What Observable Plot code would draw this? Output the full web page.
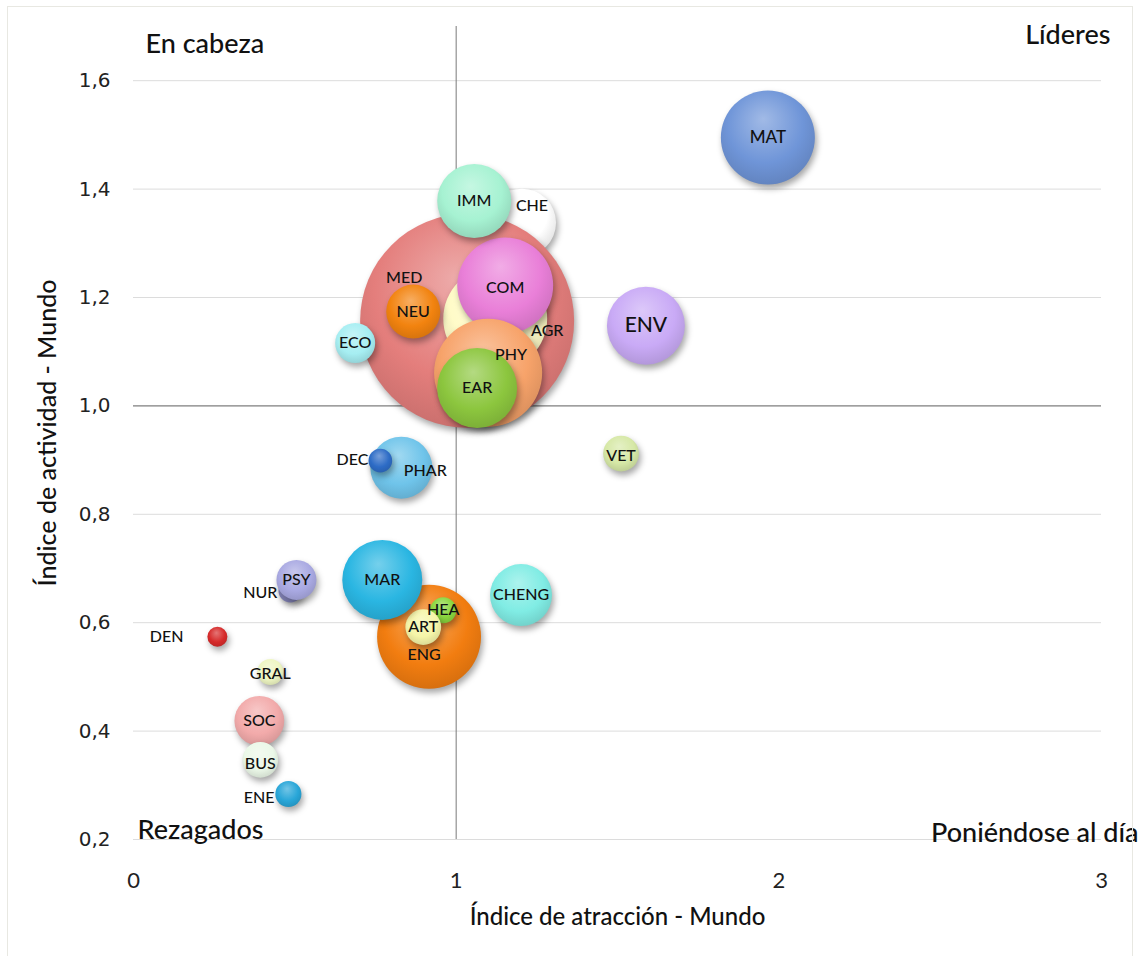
<!DOCTYPE html>
<html>
<head>
<meta charset="utf-8">
<script src="https://cdn.jsdelivr.net/npm/d3@7"></script>
<script src="https://cdn.jsdelivr.net/npm/@observablehq/plot@0.6"></script>
<style>
  body { margin: 0; background: #fff; }
  #chart { position: relative; width: 1140px; height: 956px; overflow: hidden; }
  #border { position: absolute; left: 7px; top: 6px; width: 1124px; height: 980px; border: 1px solid #e8e8e2; pointer-events: none; }
  #defs { position: absolute; width: 0; height: 0; }
  g[aria-label^="y-axis"] text { font-family: "DejaVu Sans"; font-size: 20px; fill: #222; }
  g[aria-label^="x-axis"] text { font-family: Lato; font-size: 22px; fill: #222; }
  g[aria-label="dot"] circle { filter: drop-shadow(2px 4px 3px rgba(0,0,0,0.35)); }
</style>
</head>
<body>
<svg id="defs"></svg>
<div id="chart"><div id="border"></div></div>
<script>
// ---- data (draw order) ----
const codes      = ["CHE","MED","AGR","COM","PHY","EAR","IMM","NEU","ECO","MAT","ENV","VET","PHAR","DEC","ENG","HEA","ART","MAR","CHENG","NUR","PSY","DEN","GRAL","SOC","BUS","ENE"];
const attraction = [1.204,1.034,1.121,1.152,1.099,1.065,1.056,0.867,0.687,1.966,1.588,1.511,0.830,0.765,0.916,0.960,0.898,0.771,1.201,0.486,0.505,0.260,0.424,0.390,0.393,0.480];
const activity   = [1.338,1.157,1.161,1.222,1.061,1.033,1.378,1.174,1.116,1.495,1.148,0.912,0.886,0.899,0.574,0.623,0.592,0.679,0.651,0.659,0.679,0.574,0.509,0.419,0.347,0.284];
const volume     = [116,1145,270,230,292,160,137,73,40,221,152,32,96,14,270,17,32,160,96,14,40,10,17,62,32,17];
const xTicks = [0, 1, 2, 3];
const yTicks = [0.2, 0.4, 0.6, 0.8, 1.0, 1.2, 1.4, 1.6];
const quadrantLabels = ["En cabeza", "Líderes", "Rezagados", "Poniéndose al día"];
const xTitle = "Índice de atracción - Mundo";
const yTitle = "Índice de actividad - Mundo";

// ---- styles ----
const palette = {
  MED:"#e47e7c", AGR:"#fffbc8", COM:"#e97fd8", PHY:"#f7a36a", EAR:"#8cc63e", CHE:"#ffffff", IMM:"#a6f2d2",
  NEU:"#f2830f", ECO:"#a6eef2", MAT:"#6f95d8", ENV:"#c9aaf6", VET:"#d6e8a6", PHAR:"#6fc4ea", DEC:"#2d6cc6",
  ENG:"#f27d10", HEA:"#8ad63e", ART:"#f5f5a8", MAR:"#2ab6e2", CHENG:"#80ece4", NUR:"#8f8fc8", PSY:"#a9a9e2",
  DEN:"#d62a2a", GRAL:"#eef6c2", SOC:"#f2aaaa", BUS:"#ebf8e8", ENE:"#28a6d8"
};
const labelOffset = {
  MED:[-63,-43], CHE:[10,-17], AGR:[52,12], PHY:[23,-18], PHAR:[24,3], ENG:[-5,18],
  COM:[0,2], VET:[0,2], GRAL:[0,2], BUS:[0,4],
  DEC:[-12,-1,"end"], NUR:[-13,2,"end"], DEN:[-34,0,"end"], ENE:[-14,4,"end"]
};
const labelSize = { ENV: 21, MAT: 17 };

// gradients
const defs = d3.select("#defs").append("defs");
codes.forEach(c => {
  const base = palette[c];
  const g = defs.append("radialGradient").attr("id", "g-" + c)
    .attr("cx", "48%").attr("cy", "40%").attr("r", "62%").attr("fx", "45%").attr("fy", "30%");
  g.append("stop").attr("offset", "0%").attr("stop-color", d3.interpolateRgb(base, "#fff")(0.35));
  g.append("stop").attr("offset", "65%").attr("stop-color", base);
  g.append("stop").attr("offset", "100%").attr("stop-color", d3.interpolateRgb(base, "#000")(0.12));
});

const idx = d3.range(codes.length);

const bubbles = idx.map(i => Plot.dot([i], {
  x: j => attraction[j], y: j => activity[j], r: j => volume[j],
  fill: `url(#g-${codes[i]})`, stroke: "none"
}));

const labels = idx.map(i => {
  const c = codes[i];
  const o = labelOffset[c] || [0, 0];
  return Plot.text([i], {
    x: j => attraction[j], y: j => activity[j], text: j => codes[j],
    dx: o[0], dy: o[1], textAnchor: o[2] || "middle",
    fontFamily: "Lato", fontWeight: 500, fontSize: labelSize[c] || 16, fill: "#111"
  });
});

const cornerStyle = { fontFamily: "Lato", fontWeight: 500, fontSize: 27, fill: "#111", lineAnchor: "middle" };

const plot = Plot.plot({
  width: 1140, height: 956,
  marginTop: 26, marginBottom: 117, marginLeft: 133, marginRight: 39,
  style: { background: "transparent", fontFamily: "Lato", overflow: "visible" },
  x: { domain: [0, 3], ticks: xTicks, tickFormat: d => String(d), tickSize: 0, tickPadding: 33, label: null },
  y: { domain: [0.2, 1.7], ticks: yTicks, tickFormat: d => d.toFixed(1).replace(".", ","), tickSize: 0, tickPadding: 23, label: null },
  r: { type: "sqrt", domain: [0, 1000], range: [0, 100] },
  marks: [
    Plot.ruleY(yTicks, { stroke: "#dcdcdc", strokeWidth: 1 }),
    Plot.ruleY([1], { stroke: "#6e6e6e", strokeWidth: 1 }),
    Plot.ruleX([1], { stroke: "#7a7a7a", strokeWidth: 1 }),
    ...bubbles,
    ...labels,
    Plot.text([quadrantLabels[0]], { frameAnchor: "top-left", textAnchor: "start", dx: 12, dy: 18, ...cornerStyle }),
    Plot.text([quadrantLabels[1]], { frameAnchor: "top-right", textAnchor: "end", dx: 9, dy: 9, ...cornerStyle }),
    Plot.text([quadrantLabels[2]], { frameAnchor: "bottom-left", textAnchor: "start", dx: 4, dy: -9, ...cornerStyle }),
    Plot.text([quadrantLabels[3]], { frameAnchor: "bottom-right", textAnchor: "end", dx: 37, dy: -6, ...cornerStyle }),
    Plot.text([xTitle], { frameAnchor: "bottom", textAnchor: "middle", lineAnchor: "middle", dy: 78, fontFamily: "Lato", fontWeight: 500, fontSize: 24, fill: "#111" }),
    Plot.text([yTitle], { frameAnchor: "left", textAnchor: "middle", lineAnchor: "middle", dx: -86, rotate: -90, fontFamily: "Lato", fontWeight: 500, fontSize: 25, fill: "#111" })
  ]
});
document.getElementById("chart").appendChild(plot);
</script>
</body>
</html>
